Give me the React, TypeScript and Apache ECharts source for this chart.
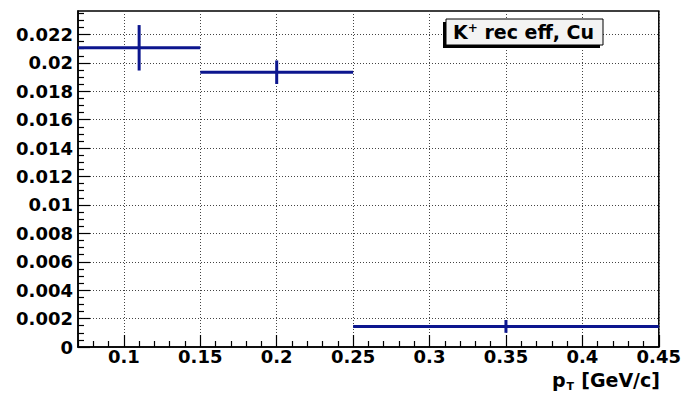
import React, { useEffect, useRef } from "react";
import * as echarts from "echarts";

// ---- data ----
const binLow = [0.07, 0.15, 0.25];
const binHigh = [0.15, 0.25, 0.45];
const binCenter = [0.11, 0.2, 0.35];
const effValues = [0.02106, 0.01934, 0.00145];
const effErrors = [0.0016, 0.00083, 0.00045];

const xMajorTicks = [0.1, 0.15, 0.2, 0.25, 0.3, 0.35, 0.4, 0.45];
const xTickLabels = ["0.1", "0.15", "0.2", "0.25", "0.3", "0.35", "0.4", "0.45"];
const yMajorTicks = [0, 0.002, 0.004, 0.006, 0.008, 0.01, 0.012, 0.014, 0.016, 0.018, 0.02, 0.022];
const yTickLabels = ["0", "0.002", "0.004", "0.006", "0.008", "0.01", "0.012", "0.014", "0.016", "0.018", "0.02", "0.022"];

const X_MIN = 0.07;
const X_MAX = 0.45;
const Y_MIN = 0;
const Y_MAX = 0.02365;
const X_MINOR_STEP = 0.01;
const Y_MINOR_STEP = 0.0005;

const legendText = "K⁺ rec eff, Cu";
const xTitleMain = "p";
const xTitleSub = "T";
const xTitleUnit = "[GeV/c]";

const LINE_COLOR = "#0c168e";
const FONT = "DejaVu Sans";

function minorTicks(min: number, max: number, step: number, majors: number[]) {
  const out: number[] = [];
  const start = Math.ceil(min / step - 1e-9);
  const end = Math.floor(max / step + 1e-9);
  for (let i = start; i <= end; i++) {
    const v = +(i * step).toFixed(6);
    if (!majors.some((m) => Math.abs(m - v) < 1e-9)) out.push(v);
  }
  return out;
}

function labelFor(v: number, ticks: number[], labels: string[]) {
  let best = 0;
  for (let i = 1; i < ticks.length; i++) {
    if (Math.abs(ticks[i] - v) < Math.abs(ticks[best] - v)) best = i;
  }
  return labels[best];
}

export default function App() {
  const ref = useRef<HTMLDivElement>(null);

  useEffect(() => {
    if (!ref.current) return;
    const chart = echarts.init(ref.current, undefined, { renderer: "svg" });

    const xMinor = minorTicks(X_MIN, X_MAX, X_MINOR_STEP, xMajorTicks);
    const yMinor = minorTicks(Y_MIN, Y_MAX, Y_MINOR_STEP, yMajorTicks);

    const data = binLow.map((lo, i) => [lo, binHigh[i], binCenter[i], effValues[i], effErrors[i]]);

    const gridLine = { show: true, lineStyle: { color: "#444", width: 1, type: [1, 2] as any } };

    const option: any = {
      animation: false,
      grid: {
        left: 78,
        right: 24,
        top: 11,
        bottom: 48,
        show: true,
        borderColor: "#000",
        borderWidth: 1.5,
        backgroundColor: "transparent",
      },
      xAxis: [
        {
          type: "value",
          min: X_MIN,
          max: X_MAX,
          position: "bottom",
          axisLine: { show: true, onZero: false, lineStyle: { color: "#000", width: 1.5 } },
          axisTick: {
            show: true,
            inside: true,
            length: 12,
            customValues: xMajorTicks,
            lineStyle: { color: "#000", width: 1.2 },
          },
          axisLabel: {
            show: true,
            customValues: xMajorTicks,
            formatter: (v: number) => labelFor(v, xMajorTicks, xTickLabels),
            fontFamily: FONT,
            fontWeight: "bold",
            fontSize: 18,
            lineHeight: 14,
            color: "#000",
            margin: 2,
          },
          splitLine: { show: false },
        },
        {
          type: "value",
          min: X_MIN,
          max: X_MAX,
          position: "bottom",
          axisLine: { show: false, onZero: false },
          axisTick: {
            show: true,
            inside: true,
            length: 6,
            customValues: xMinor,
            lineStyle: { color: "#000", width: 1.2 },
          },
          axisLabel: { show: false },
          splitLine: { show: false },
        },
        {
          type: "value",
          min: X_MIN,
          max: X_MAX,
          position: "bottom",
          axisLine: { show: false, onZero: false },
          axisTick: { show: false, customValues: xMajorTicks },
          axisLabel: { show: false, customValues: xMajorTicks },
          splitLine: gridLine,
        },
      ],
      yAxis: [
        {
          type: "value",
          min: Y_MIN,
          max: Y_MAX,
          position: "left",
          axisLine: { show: true, onZero: false, lineStyle: { color: "#000", width: 1.5 } },
          axisTick: {
            show: true,
            inside: true,
            length: 12,
            customValues: yMajorTicks,
            lineStyle: { color: "#000", width: 1.2 },
          },
          axisLabel: {
            show: true,
            customValues: yMajorTicks,
            formatter: (v: number) => labelFor(v, yMajorTicks, yTickLabels),
            fontFamily: FONT,
            fontWeight: "bold",
            fontSize: 18,
            color: "#000",
            margin: 5,
          },
          splitLine: { show: false },
        },
        {
          type: "value",
          min: Y_MIN,
          max: Y_MAX,
          position: "left",
          axisLine: { show: false, onZero: false },
          axisTick: {
            show: true,
            inside: true,
            length: 6,
            customValues: yMinor,
            lineStyle: { color: "#000", width: 1.2 },
          },
          axisLabel: { show: false },
          splitLine: { show: false },
        },
        {
          type: "value",
          min: Y_MIN,
          max: Y_MAX,
          position: "left",
          axisLine: { show: false, onZero: false },
          axisTick: { show: false, customValues: yMajorTicks },
          axisLabel: { show: false, customValues: yMajorTicks },
          splitLine: gridLine,
        },
      ],
      series: [
        {
          type: "custom",
          xAxisIndex: 0,
          yAxisIndex: 0,
          data,
          encode: { x: [0, 1, 2], y: [3] },
          clip: true,
          renderItem: (params: any, api: any) => {
            const lo = api.value(0);
            const hi = api.value(1);
            const xc = api.value(2);
            const y = api.value(3);
            const e = api.value(4);
            const a = api.coord([lo, y]);
            const b = api.coord([hi, y]);
            const c = api.coord([xc, y + e]);
            const d = api.coord([xc, y - e]);
            const style = { stroke: LINE_COLOR, lineWidth: 3, fill: null };
            return {
              type: "group",
              children: [
                { type: "line", shape: { x1: a[0], y1: a[1], x2: b[0], y2: b[1] }, style },
                { type: "line", shape: { x1: c[0], y1: c[1], x2: d[0], y2: d[1] }, style },
              ],
            };
          },
        },
      ],
      graphic: [
        {
          type: "rect",
          shape: { x: 443, y: 22, width: 157, height: 26 },
          style: { fill: "#000" },
          z: 100,
        },
        {
          type: "rect",
          shape: { x: 446, y: 19, width: 157, height: 26 },
          style: { fill: "#f3f3f3", stroke: "#000", lineWidth: 1 },
          z: 101,
        },
        {
          type: "text",
          x: 453,
          y: 32,
          z: 102,
          style: {
            text: "{b|K}{sup|+}{b| rec eff, Cu}",
            verticalAlign: "middle",
            align: "left",
            rich: {
              b: { fontFamily: FONT, fontWeight: "bold", fontSize: 19, fill: "#000", lineHeight: 22 },
              sup: { fontFamily: FONT, fontWeight: "bold", fontSize: 12, fill: "#000", padding: [0, 0, 9, 0] },
            },
          },
        },
        {
          type: "text",
          x: 552,
          y: 380,
          z: 102,
          style: {
            text: xTitleMain,
            align: "left",
            verticalAlign: "middle",
            fontFamily: FONT,
            fontWeight: "bold",
            fontSize: 19,
            lineHeight: 17,
            fill: "#000",
          },
        },
        {
          type: "text",
          x: 566.5,
          y: 386.5,
          z: 102,
          style: {
            text: xTitleSub,
            align: "left",
            verticalAlign: "middle",
            fontFamily: FONT,
            fontWeight: "bold",
            fontSize: 11,
            lineHeight: 8,
            fill: "#000",
          },
        },
        {
          type: "text",
          x: 660,
          y: 380,
          z: 102,
          style: {
            text: xTitleUnit,
            align: "right",
            verticalAlign: "middle",
            fontFamily: FONT,
            fontWeight: "bold",
            fontSize: 19,
            lineHeight: 17,
            fill: "#000",
          },
        },
      ],
    };

    chart.setOption(option);
    return () => chart.dispose();
  }, []);

  return (
    <div
      ref={ref}
      style={{ position: "fixed", left: 0, top: 0, width: 684, height: 395, background: "#fff" }}
      data-legend={legendText}
    />
  );
}
